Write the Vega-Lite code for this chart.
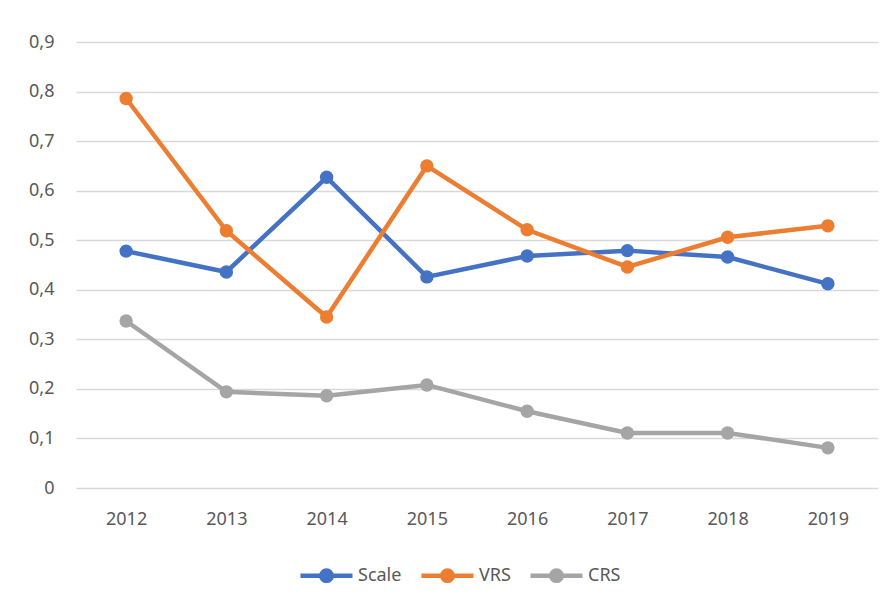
{
  "$schema": "https://vega.github.io/schema/vega-lite/v6.json",
  "autosize": "none",
  "width": 802,
  "height": 446,
  "padding": {"left": 76, "top": 42, "right": 12, "bottom": 122},
  "background": "white",
  "config": {
    "view": {"stroke": null},
    "font": "Noto Sans"
  },
  "data": {
    "values": [
      {"year": "2012", "series": "Scale", "value": 0.478},
      {"year": "2013", "series": "Scale", "value": 0.436},
      {"year": "2014", "series": "Scale", "value": 0.627},
      {"year": "2015", "series": "Scale", "value": 0.426},
      {"year": "2016", "series": "Scale", "value": 0.468},
      {"year": "2017", "series": "Scale", "value": 0.479},
      {"year": "2018", "series": "Scale", "value": 0.466},
      {"year": "2019", "series": "Scale", "value": 0.412},
      {"year": "2012", "series": "VRS", "value": 0.786},
      {"year": "2013", "series": "VRS", "value": 0.519},
      {"year": "2014", "series": "VRS", "value": 0.345},
      {"year": "2015", "series": "VRS", "value": 0.650},
      {"year": "2016", "series": "VRS", "value": 0.521},
      {"year": "2017", "series": "VRS", "value": 0.446},
      {"year": "2018", "series": "VRS", "value": 0.506},
      {"year": "2019", "series": "VRS", "value": 0.529},
      {"year": "2012", "series": "CRS", "value": 0.337},
      {"year": "2013", "series": "CRS", "value": 0.194},
      {"year": "2014", "series": "CRS", "value": 0.186},
      {"year": "2015", "series": "CRS", "value": 0.208},
      {"year": "2016", "series": "CRS", "value": 0.155},
      {"year": "2017", "series": "CRS", "value": 0.111},
      {"year": "2018", "series": "CRS", "value": 0.111},
      {"year": "2019", "series": "CRS", "value": 0.081}
    ]
  },
  "mark": {"type": "line", "strokeWidth": 4.5, "point": {"filled": true, "size": 180, "opacity": 1}},
  "encoding": {
    "x": {
      "field": "year", "type": "ordinal", "title": null,
      "scale": {"type": "point", "padding": 0.5},
      "axis": {"labelAngle": 0, "domain": false, "ticks": false, "grid": false,
               "labelFontSize": 18, "labelColor": "#595959", "labelPadding": 22}
    },
    "y": {
      "field": "value", "type": "quantitative", "title": null,
      "scale": {"domain": [0, 0.9], "nice": false},
      "axis": {"values": [0, 0.1, 0.2, 0.3, 0.4, 0.5, 0.6, 0.7, 0.8, 0.9],
               "labelExpr": "datum.value == 0 ? '0' : replace(format(datum.value, '.1f'), '.', ',')",
               "domain": false, "ticks": false, "gridColor": "#D9D9D9", "gridWidth": 1.5,
               "labelFontSize": 18, "labelColor": "#595959", "labelPadding": 22}
    },
    "color": {
      "field": "series", "type": "nominal", "title": null,
      "scale": {"domain": ["Scale", "VRS", "CRS"], "range": ["#4472C4", "#ED7D31", "#A5A5A5"]},
      "legend": {
        "orient": "none", "legendX": 222, "legendY": 505, "direction": "horizontal",
        "symbolType": "M-1,0L1,0M-0.2,0A0.2,0.2 0 1,1 0.2,0A0.2,0.2 0 1,1 -0.2,0",
        "symbolSize": 2704, "symbolStrokeWidth": 4.5,
        "labelFontSize": 18, "labelColor": "#595959", "labelOffset": 3, "columnPadding": 10,
        "encode": {"symbols": {"update": {"fill": {"scale": "color", "field": "value"}}}}
      }
    },
    "order": {"field": "year"}
  }
}
